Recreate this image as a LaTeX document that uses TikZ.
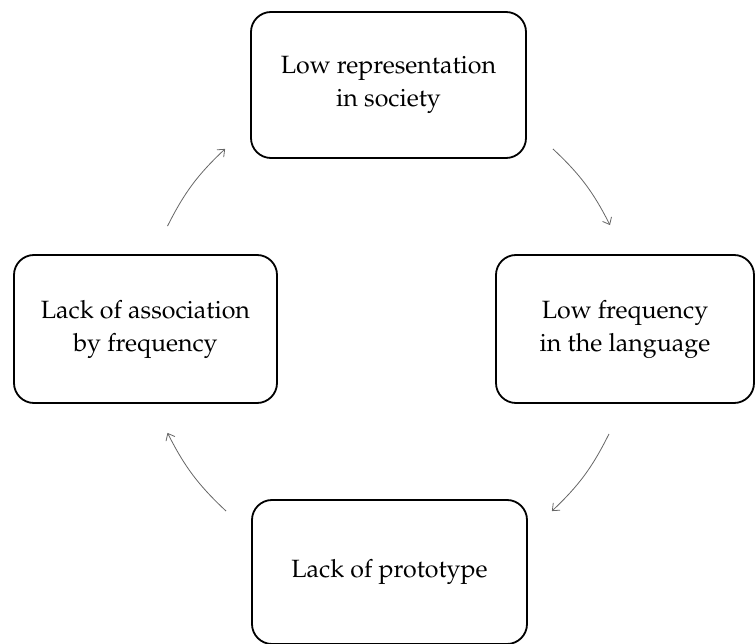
\documentclass[tikz,border=0pt]{standalone}
\usepackage[T1]{fontenc}
\usepackage{mathpazo}
\usetikzlibrary{arrows.meta}
\begin{document}
\begin{tikzpicture}[x=1pt,y=-1pt,
        box/.style={draw,line width=1.8pt,rounded corners=20pt,align=center,
            font=\fontsize{25}{33}\selectfont,inner sep=0pt},
        flow/.style={draw=black!60,line width=0.8pt,-{Straight Barb[length=6pt,width=10pt]}}]
        \useasboundingbox (0,0) rectangle (756,644);

        \node[box,minimum width=275pt,minimum height=146pt] (top) at (388.5,85) {Low representation\\in society};
        \node[box,minimum width=258pt,minimum height=148pt] (rgt) at (625,329) {Low frequency\\in the language};
        \node[box,minimum width=275pt,minimum height=144pt] (bot) at (389.5,572) {Lack of prototype};
        \node[box,minimum width=263pt,minimum height=148pt] (lft) at (145.5,329) {Lack of association\\by frequency};

        \draw[flow] ([xshift=22pt,yshift=28pt]lft.north) to[bend left=10] ([xshift=-25pt,yshift=10pt]top.south west);
        \draw[flow] ([xshift=26pt,yshift=10pt]top.south east) to[bend left=10] ([xshift=-15pt,yshift=29pt]rgt.north);
        \draw[flow] ([xshift=-16pt,yshift=-30pt]rgt.south) to[bend left=10] ([xshift=24pt,yshift=-12pt]bot.north east);
        \draw[flow] ([xshift=-25pt,yshift=-12pt]bot.north west) to[bend left=10] ([xshift=22pt,yshift=-29pt]lft.south);
    \end{tikzpicture}
\end{document}
